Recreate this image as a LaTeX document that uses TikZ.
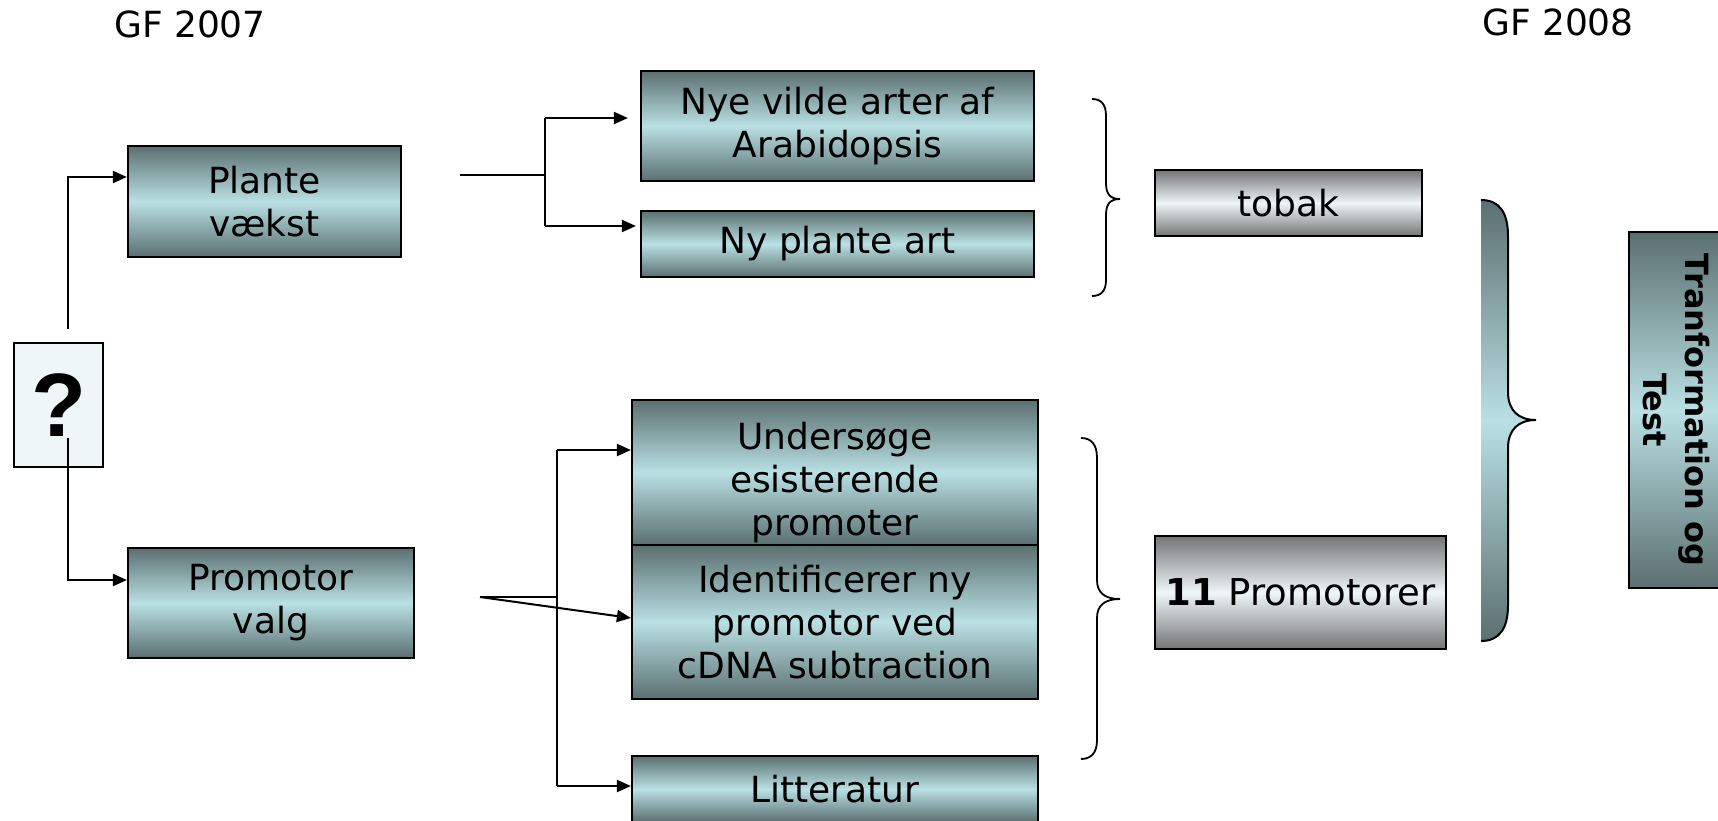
\documentclass[tikz,border=0pt]{standalone}
\usepackage{fontspec}
\setmainfont{DejaVu Sans}
\newfontfamily\qfont{Liberation Sans}
\usetikzlibrary{arrows.meta,calc}
\definecolor{tealdark}{HTML}{5B6F70}
\definecolor{teallight}{HTML}{B9E0E3}
\definecolor{graydark}{HTML}{747474}
\definecolor{graylight}{HTML}{EEF6F8}
\definecolor{qfill}{HTML}{EEF6F7}
\begin{document}
\begin{tikzpicture}[x=0.5pt,y=-0.5pt,
  boxfont/.style={font=\fontsize{18}{21.5}\selectfont},
  tbox/.style={draw=black,line width=1.1pt,top color=tealdark,bottom color=tealdark,middle color=teallight,inner sep=0pt,align=center,boxfont},
  gbox/.style={draw=black,line width=1.1pt,top color=graydark,bottom color=graydark,middle color=graylight,inner sep=0pt,align=center,boxfont},
  conn/.style={line width=1pt},
  arr/.style={conn,-{Triangle[length=7pt,width=6pt]}},
  bracel/.style={line width=0.9pt}]
\useasboundingbox (0,0) rectangle (1718,820);

% labels
\node[boxfont] (gf7) at (190,24) {GF 2007};
\node[boxfont] (gf8) at (1558,22) {GF 2008};

% boxes
\node[draw=black,line width=1.1pt,fill=qfill,minimum width=44.5pt,minimum height=62pt,inner sep=0pt] (q) at (58.5,405) {\qfont\bfseries\fontsize{45}{45}\selectfont ?};
\node[tbox,minimum width=136.5pt,minimum height=55.5pt] (plante) at (264.5,201.5) {Plante\\vækst};
\node[tbox,minimum width=143pt,minimum height=55pt] (promotor) at (271,603) {Promotor\\valg};
\node[tbox,minimum width=196.5pt,minimum height=55pt] (nye) at (837.5,126) {Nye vilde arter af\\Arabidopsis};
\node[tbox,minimum width=196.5pt,minimum height=33pt] (nyplante) at (837.5,244) {Ny plante art};
\node[gbox,minimum width=133.5pt,minimum height=33pt] (tobak) at (1288.5,203) {tobak};
\node[tbox,minimum width=203pt,minimum height=72.5pt] (unders) at (835,472.5) {};
\node[boxfont,align=center,inner sep=0pt] (unders-t) at ($(unders.center)+(0,10)$) {Undersøge\\esisterende\\promoter};
\node[tbox,minimum width=203pt,minimum height=77pt] (ident) at (835,622) {Identificerer ny\\promotor ved\\cDNA subtraction};
\node[tbox,minimum width=203pt,minimum height=33pt] (litt) at (835,789) {Litteratur};
\node[gbox,minimum width=145.5pt,minimum height=56.5pt,font=\fontsize{18.5}{21.5}\selectfont] (elleve) at (1300.5,592.5) {\textbf{11} Promotorer};
\node[tbox,rotate=-90,minimum width=178pt,minimum height=47.5pt,font=\fontsize{16}{21}\selectfont\bfseries] (tranf) at (1676.5,410) {Tranformation og\\Test};

% connectors from ?
\coordinate (qtop) at (68,329);
\coordinate (qbot) at (68,438);
\draw[arr] (qtop) |- (plante.west |- 0,177);
\draw[arr] (qbot) |- (promotor.west |- 0,580);

% connectors from Plante vaekst
\coordinate (pout) at (460,175);
\coordinate (pj) at (545,175);
\coordinate (pv1) at (545,118);
\coordinate (pv2) at (545,226);
\draw[conn,line width=1.3pt] (pout) -- (pj);
\draw[conn] (pv1) -- (pv2);
\draw[arr,shorten >=6pt] (pv1) -- (nye.west |- pv1);
\draw[arr,shorten >=2pt] (pv2) -- (nyplante.west |- pv2);

% connectors from Promotor valg
\coordinate (mout) at (480,597);
\coordinate (mj) at (557,597);
\coordinate (mv1) at (557,450);
\coordinate (mv2) at (557,786);
\draw[conn] (mout) -- (mj);
\draw[conn] (mv1) -- (mv2);
\draw[arr] (mv1) -- (unders.west |- mv1);
\draw[arr] (mv2) -- (litt.west |- mv2);
\draw[arr] (mout) -- (ident.west |- 0,618);

% thin braces
\draw[bracel] (1092,99) .. controls (1101,99) and (1106,104) .. (1106,116)
  -- (1106,183) .. controls (1106,194) and (1110,199) .. (1120,199)
  .. controls (1110,199) and (1106,204) .. (1106,215)
  -- (1106,280) .. controls (1106,291) and (1101,296) .. (1092,296);
\draw[bracel] (1081,438) .. controls (1091,438) and (1097,444) .. (1097,458)
  -- (1097,580) .. controls (1097,593) and (1105,599) .. (1120,599)
  .. controls (1105,599) and (1097,605) .. (1097,618)
  -- (1097,740) .. controls (1097,753) and (1091,759) .. (1081,759);

% big shaded brace
\shade[top color=tealdark,bottom color=tealdark,middle color=teallight]
  (1481,200) .. controls (1499,200) and (1508,212) .. (1508,236)
  -- (1508,392) .. controls (1508,410) and (1518,420) .. (1536,420)
  .. controls (1518,420) and (1508,430) .. (1508,448)
  -- (1508,605) .. controls (1508,629) and (1499,641) .. (1481,641) -- cycle;
\draw[line width=1pt] (1481,200) .. controls (1499,200) and (1508,212) .. (1508,236)
  -- (1508,392) .. controls (1508,410) and (1518,420) .. (1536,420)
  .. controls (1518,420) and (1508,430) .. (1508,448)
  -- (1508,605) .. controls (1508,629) and (1499,641) .. (1481,641);
\end{tikzpicture}
\end{document}
